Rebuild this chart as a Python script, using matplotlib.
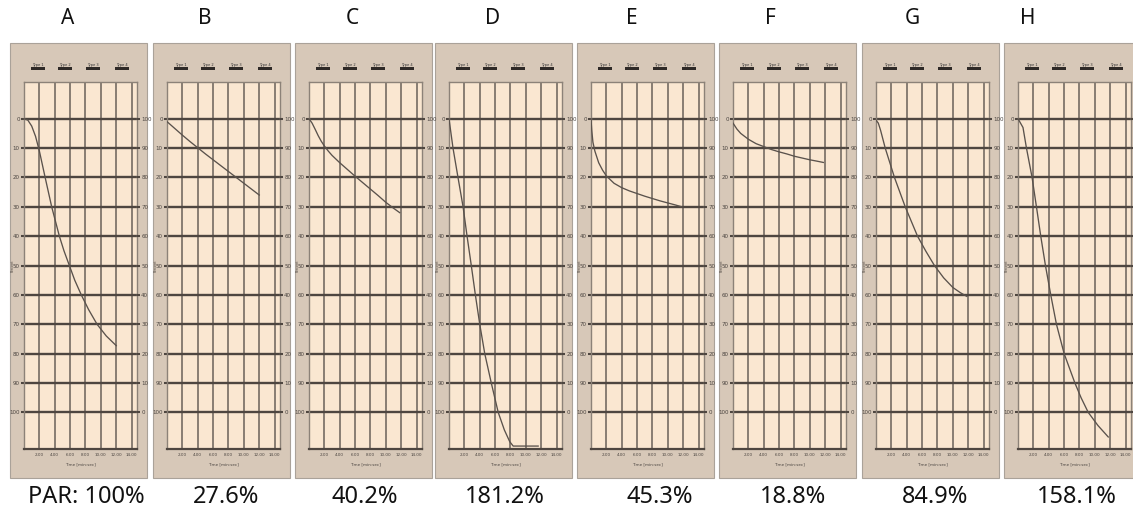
import matplotlib
matplotlib.use("Agg")
import matplotlib.pyplot as plt
from matplotlib.patches import Rectangle

plt.rcParams['font.family'] = ['Noto Sans', 'DejaVu Sans']

# panel letters and PAR labels
panel_names = ['A', 'B', 'C', 'D', 'E', 'F', 'G', 'H']
par_labels = ['PAR: 100%', '27.6%', '40.2%', '181.2%', '45.3%', '18.8%', '84.9%', '158.1%']

# curves (time, percent)
a_t = [0, 0.5, 1, 1.5, 2, 2.75, 3.6, 4.6, 5.2, 5.9, 6.6, 7.45, 8.4, 9.5, 10.7, 12.0]
a_v = [0, 0.5, 2.5, 6, 11, 20, 30, 40, 45, 50, 55, 60, 65, 70, 74, 77.3]
b_t = [0, 1, 2, 3, 4, 5, 6, 7, 8, 9, 10, 11, 12]
b_v = [1, 3.3, 5.6, 7.8, 9.9, 12, 14, 16, 18, 20, 22, 24, 26]
c_t = [0, 0.4, 0.8, 1.2, 1.6, 2, 2.5, 3, 4, 5, 6, 7, 8, 9, 10, 11, 11.8]
c_v = [0, 1.5, 3.6, 5.8, 7.7, 9.3, 11, 12.5, 15, 17.3, 19.6, 21.8, 24, 26.2, 28.5, 30.5, 32]
d_t = [0, 0.52, 1.17, 1.83, 2.35, 2.9, 3.43, 4.0, 4.65, 5.5, 6.4, 7.2, 7.9, 8.35, 11.6]
d_v = [0, 10, 20, 30, 40, 50, 60, 70, 80, 90, 100, 106, 110, 111.5, 111.5]
e_t = [0, 0.1, 0.25, 0.5, 1, 1.5, 2, 3, 4, 5, 6, 7, 8, 9, 10, 11, 11.8]
e_v = [0, 4, 8, 11, 15, 17.5, 19.5, 22, 23.5, 24.6, 25.5, 26.4, 27.2, 28, 28.7, 29.4, 30]
f_t = [0, 0.5, 1, 2, 3, 4, 5, 6, 7, 8, 9, 10, 11, 11.75]
f_v = [1.5, 3.5, 5, 7, 8.5, 9.5, 10.5, 11.3, 12, 12.8, 13.4, 14, 14.5, 14.9]
g_t = [0, 0.3, 0.6, 0.9, 1.2, 1.8, 2.4, 3.1, 3.8, 4.6, 5.4, 6.5, 7.6, 8.8, 10, 11, 11.8]
g_v = [0.5, 1.5, 4, 7, 10, 15, 20, 25, 30, 35, 40, 45.2, 50, 54.2, 57.5, 59.3, 60.5]
h_t = [0, 0.65, 1.1, 1.83, 2.4, 2.96, 3.57, 4.26, 5, 6, 7.4, 8.2, 9.13, 10.4, 11.74]
h_v = [0, 3, 10, 20, 30, 40, 50, 60, 70, 80, 90, 95, 100, 104.5, 108.4]

curves = [(a_t, a_v), (b_t, b_v), (c_t, c_v), (d_t, d_v),
          (e_t, e_v), (f_t, f_v), (g_t, g_v), (h_t, h_v)]

y_ticks = [0, 10, 20, 30, 40, 50, 60, 70, 80, 90, 100]
x_ticks = [2, 4, 6, 8, 10, 12, 14]
x_tick_labels = ['2.00', '4.00', '6.00', '8.00', '10.00', '12.00', '14.00']
type_labels = ['Type 1', 'Type 2', 'Type 3', 'Type 4']

# layout (pixels)
W, H = 1133, 514
frame_left = [10, 153, 295, 435, 577, 719, 862, 1004]
letter_x = [68, 205, 352, 493, 632, 770, 912, 1028]
par_x = [86, 226, 365, 505, 660, 793, 935, 1077]
type_off = [28, 55, 83, 112]

tan = '#d7c8b8'
cream = '#fae7d1'
hline = '#4e4640'
vline = '#80756c'
curve_col = '#5a524c'
lab_col = '#4a4440'


def fx(px):
    return px / W


def fy(py):
    return 1 - py / H


fig = plt.figure(figsize=(W / 100, H / 100), dpi=100)
fig.patch.set_facecolor('white')

for i, fl in enumerate(frame_left):
    fw = 137 if i < 7 else 140
    # frame goes behind the axes
    fig.add_artist(Rectangle((fx(fl), fy(478)), fw / W, (478 - 43) / H,
                             transform=fig.transFigure, fc=tan, ec='#aaa299',
                             lw=0.8, zorder=-2))

    # type buttons
    for k, off in enumerate(type_off):
        fig.text(fx(fl + off), fy(67), type_labels[k], fontsize=2.6, color='#333',
                 ha='center', va='bottom', family='DejaVu Sans')
        fig.add_artist(Rectangle((fx(fl + off - 7), fy(69.5)), 14 / W, 2.2 / H,
                                 transform=fig.transFigure, fc='#2f2a27', ec='none'))

    ax = fig.add_axes([fx(fl + 14), fy(449), 113 / W, (449 - 82) / H])
    ax.set_facecolor(cream)
    ax.set_xlim(0, 14.7)
    ax.set_ylim(112.5, -12.5)
    for v in x_ticks:
        ax.axvline(v, color=vline, lw=1.3, zorder=1)
    for v in y_ticks:
        ax.axhline(v, color=hline, lw=1.7, zorder=2)
    t, v = curves[i]
    ax.plot(t, v, color=curve_col, lw=0.95, zorder=3)

    for s in ['top', 'left', 'right']:
        ax.spines[s].set_color('#8c8278')
        ax.spines[s].set_linewidth(1.0)
    ax.spines['bottom'].set_color(hline)
    ax.spines['bottom'].set_linewidth(1.6)

    ax.set_yticks(y_ticks)
    ax.set_yticklabels([str(v) for v in y_ticks])
    ax.set_xticks(x_ticks)
    ax.set_xticklabels(x_tick_labels)
    ax.tick_params(axis='y', length=2.5, width=1.5, color=hline, pad=0.5,
                   labelsize=4, labelcolor=lab_col)
    ax.tick_params(axis='x', length=0, pad=3, labelsize=3, labelcolor=lab_col)
    ax.set_xlabel('Time [min:sec]', fontsize=3, color=lab_col, labelpad=4,
                  family='DejaVu Sans')
    for lab in ax.get_xticklabels() + ax.get_yticklabels():
        lab.set_family('DejaVu Sans')

    ax2 = ax.twinx()
    ax2.set_ylim(-12.5, 112.5)
    ax2.set_yticks(y_ticks)
    ax2.set_yticklabels([str(v) for v in y_ticks])
    ax2.tick_params(axis='y', length=2.5, width=1.5, color=hline, pad=0.5,
                    labelsize=4, labelcolor=lab_col)
    for lab in ax2.get_yticklabels():
        lab.set_family('DejaVu Sans')
    for s in ax2.spines.values():
        s.set_visible(False)

    fig.text(fx(fl + 3), fy(266), 'Percent', fontsize=2.4, rotation=90,
             color=lab_col, ha='center', va='center', family='DejaVu Sans')

    fig.text(fx(letter_x[i]), fy(18), panel_names[i], fontsize=15,
             ha='center', va='center', color='#111')
    fig.text(fx(par_x[i]), fy(497), par_labels[i], fontsize=17,
             ha='center', va='center', color='#111')

fig.savefig('out.png', dpi=100, facecolor='white')
